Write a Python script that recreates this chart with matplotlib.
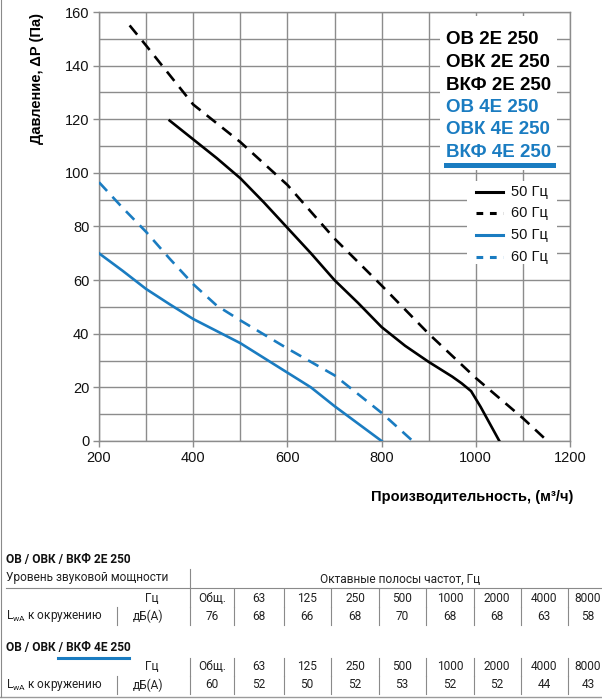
import matplotlib
matplotlib.use('Agg')
import matplotlib.pyplot as plt
from matplotlib.lines import Line2D
from matplotlib.patches import Rectangle

# fan curves, flow (m3/h) vs pressure (Pa)
flow_2e_50 = [350, 400, 450, 500, 550, 600, 650, 700, 750, 800, 850, 900, 950, 970, 990, 1010, 1025, 1050]
pres_2e_50 = [119.5, 112.5, 105.5, 98, 89, 79.5, 70, 60, 51.5, 42.5, 35.5, 29.5, 24, 21.5, 18.6, 12.8, 8, 0]
flow_2e_60 = [265, 300, 400, 500, 600, 700, 800, 900, 1000, 1100, 1152]
pres_2e_60 = [155, 147.5, 125.5, 111.5, 95.5, 75.5, 58, 40, 23.5, 8.5, 0]
flow_4e_50 = [200, 250, 300, 350, 400, 450, 500, 550, 600, 650, 700, 750, 800]
pres_4e_50 = [70, 63.5, 56.7, 51, 45.5, 41, 36.5, 31, 25.5, 20, 13, 6.5, 0]
flow_4e_60 = [200, 250, 300, 350, 400, 450, 500, 600, 700, 800, 866]
pres_4e_60 = [96.5, 87, 78, 68, 58.5, 50.5, 45, 34.5, 24.5, 10.5, 0]

models_2e = ['ОВ 2Е 250', 'ОВК 2Е 250', 'ВКФ 2Е 250']
models_4e = ['ОВ 4Е 250', 'ОВК 4Е 250', 'ВКФ 4Е 250']
legend_labels = ['50 Гц', '60 Гц', '50 Гц', '60 Гц']

# sound table
bands = ['Общ.', '63', '125', '250', '500', '1000', '2000', '4000', '8000']
sound_2e = [76, 68, 66, 68, 70, 68, 68, 63, 58]
sound_4e = [60, 52, 50, 52, 53, 52, 52, 44, 43]

BLUE = '#1a7cc1'
GRID = '#8c8c8c'
W, H = 602, 700

def fx(x):
    return x / W

def fy(y):
    return 1 - y / H

fig = plt.figure(figsize=(6.02, 7.0), dpi=100)
ax = fig.add_axes([fx(99), fy(441), fx(570) - fx(99), fy(12) - fy(441)])

ax.plot(flow_2e_50, pres_2e_50, color='black', lw=1.9, zorder=3)
ax.plot(flow_2e_60, pres_2e_60, color='black', lw=1.9, ls=(0, (4.5, 3)), zorder=3)
ax.plot(flow_4e_50, pres_4e_50, color=BLUE, lw=1.9, zorder=3)
ax.plot(flow_4e_60, pres_4e_60, color=BLUE, lw=1.9, ls=(0, (4.5, 3)), zorder=3)

ax.set_xlim(200, 1200)
ax.set_ylim(0, 160)
ax.set_xticks(range(200, 1201, 200))
ax.set_xticks(range(300, 1200, 200), minor=True)
ax.set_yticks(range(0, 161, 20))
ax.set_yticks(range(10, 160, 20), minor=True)
ax.set_axisbelow(True)
ax.grid(which='both', color=GRID, lw=1.0)
for s in ax.spines.values():
    s.set_color(GRID)
    s.set_linewidth(1.0)
ax.tick_params(which='major', color=GRID, length=4, width=1.0, pad=3,
               labelsize=10.5, labelcolor='#111111')
ax.tick_params(which='minor', length=0)
for lab in ax.get_xticklabels() + ax.get_yticklabels():
    lab.set_family('Liberation Sans')

# white panels behind model names and legend
ax.add_patch(Rectangle((924, 101), 248, 57.5, facecolor='white', edgecolor='none', zorder=1))
ax.add_patch(Rectangle((981, 66), 191, 31, facecolor='white', edgecolor='none', zorder=1))

fig.text(fx(37), fy(78), 'Давление, ΔP (Па)', rotation=90, ha='center', va='center',
         fontsize=10.5, fontweight='bold', family='Liberation Sans')
fig.text(fx(573), fy(497), 'Производительность, (м³/ч)', ha='right', va='center',
         fontsize=10.5, fontweight='bold', family='Liberation Sans')

# model names
names = models_2e + models_4e
cols = ['black'] * 3 + [BLUE] * 3
for i, (n, c) in enumerate(zip(names, cols)):
    fig.text(fx(446), fy(40 + i * 22.5), n, color=c, ha='left', va='center',
             fontsize=13.5, fontweight='bold', family='Liberation Sans')
fig.add_artist(Line2D([fx(446), fx(553)], [fy(164.5), fy(164.5)], color=BLUE, lw=3.6))

# legend
styles = [('black', '-'), ('black', (0, (2.2, 2.2))), (BLUE, '-'), (BLUE, (0, (2.2, 2.2)))]
for i, ((c, ls), lab) in enumerate(zip(styles, legend_labels)):
    yy = fy(192 + i * 21.5)
    fig.add_artist(Line2D([fx(476), fx(503)], [yy, yy], color=c, lw=2.2, ls=ls))
    fig.text(fx(511), yy, lab, ha='left', va='center', fontsize=10.5,
             family='Liberation Sans', color='#111111')

# sound table
TF = 'Roboto'
TS = 8.6
TC = '#222222'
sep_x = [190, 234, 284, 331, 379, 426, 474, 521, 568]
col_c = [212, 259, 307, 355, 402, 450, 497, 544, 588]

def vline(x, y0, y1):
    fig.add_artist(Line2D([fx(x), fx(x)], [fy(y0), fy(y1)], color='#8a8a8a', lw=0.8))

def hline(x0, x1, y, c='#8a8a8a', lw=0.8):
    fig.add_artist(Line2D([fx(x0), fx(x1)], [fy(y), fy(y)], color=c, lw=lw))

def table_rows(y_head, y_data, values):
    fig.text(fx(152), fy(y_head), 'Гц', ha='center', va='center', fontsize=TS, family=TF, color=TC)
    fig.text(fx(6), fy(y_data), 'L$_\\mathregular{wA}$ к окружению', ha='left', va='center',
             fontsize=TS, family=TF, color=TC)
    fig.text(fx(148), fy(y_data), 'дБ(А)', ha='center', va='center', fontsize=TS, family=TF, color=TC)
    for b, v, xc in zip(bands, values, col_c):
        fig.text(fx(xc), fy(y_head), b, ha='center', va='center', fontsize=TS, family=TF, color=TC)
        fig.text(fx(xc), fy(y_data), str(v), ha='center', va='center', fontsize=TS, family=TF, color=TC)
    for x in sep_x:
        vline(x, y_head - 9, y_head + 9)
        vline(x, y_data - 9, y_data + 9)
    vline(117, y_data - 9, y_data + 9)

fig.text(fx(6), fy(560), 'ОВ / ОВК / ВКФ 2Е 250', ha='left', va='center', fontsize=TS,
         fontweight='bold', family=TF, color='#111111')
fig.text(fx(6), fy(578), 'Уровень звуковой мощности', ha='left', va='center', fontsize=TS,
         family=TF, color=TC)
fig.text(fx(400), fy(579), 'Октавные полосы частот, Гц', ha='center', va='center', fontsize=TS,
         family=TF, color=TC)
vline(190, 569, 588)
hline(6, 602, 588)
table_rows(598, 616, sound_2e)

fig.text(fx(6), fy(647), 'ОВ / ОВК / ВКФ 4Е 250', ha='left', va='center', fontsize=TS,
         fontweight='bold', family=TF, color='#111111')
hline(58, 129, 657.5, c=BLUE, lw=2.2)
table_rows(667, 685, sound_4e)

hline(0, 602, 697, c='#9a9a9a', lw=1.0)
vline(1, 0, 697)

fig.savefig('out.png', dpi=100)
